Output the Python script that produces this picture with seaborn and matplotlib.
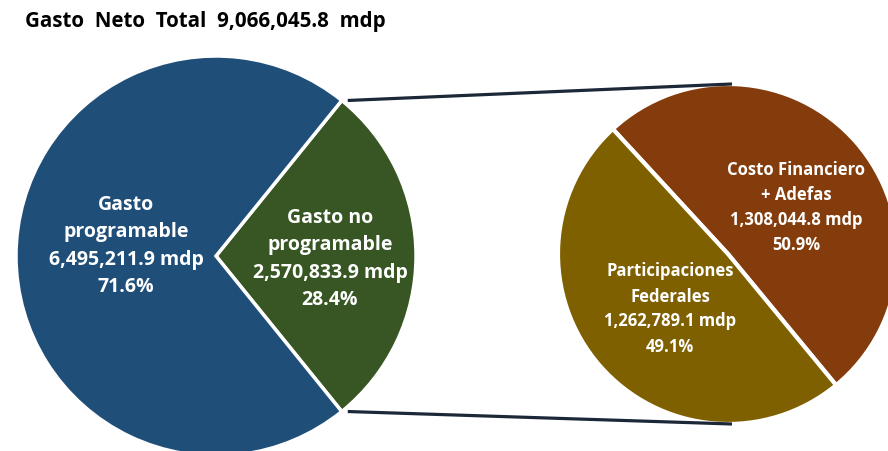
import numpy as np
import matplotlib
matplotlib.use("Agg")
import matplotlib.pyplot as plt
import seaborn as sns

# data (mdp)
total_label = "Gasto  Neto  Total  9,066,045.8  mdp"
main_names = ["Gasto no\nprogramable", "Gasto\nprogramable"]
main_values = [2570833.9, 6495211.9]
main_pct = ["28.4%", "71.6%"]
sub_names = ["Costo Financiero\n+ Adefas", "Participaciones\nFederales"]
sub_values = [1308044.8, 1262789.1]
sub_pct = ["50.9%", "49.1%"]

sns.set_theme(style="white")
plt.rcParams["font.family"] = ["Open Sans", "DejaVu Sans"]

main_colors = ["#375623", "#1F4E79"]
sub_colors = ["#843C0C", "#7F6000"]

fig = plt.figure(figsize=(8.88, 4.52), dpi=100)
ax = fig.add_axes([0, 0, 1, 1])

# left pie, the small slice pulled out to the right
c1 = (216, 195)
r1 = 200
half = 360 * main_values[0] / sum(main_values) / 2
ax.pie(main_values, colors=main_colors, startangle=-half, counterclock=True,
       center=c1, radius=r1, explode=[0.03, 0],
       wedgeprops=dict(edgecolor="white", linewidth=2.5))

# right pie (breakdown of gasto no programable)
c2 = (728, 197)
r2 = 170
ax.pie(sub_values, colors=sub_colors, startangle=-50.5, counterclock=True,
       center=c2, radius=r2,
       wedgeprops=dict(edgecolor="white", linewidth=3))

# connector lines from the exploded wedge corners to the second pie
gx = c1[0] + 0.03 * r1
for sgn in (1, -1):
    a = np.deg2rad(sgn * half)
    x0 = gx + r1 * np.cos(a)
    y0 = c1[1] + r1 * np.sin(a)
    ax.plot([x0, c2[0] + 4], [y0, c2[1] + sgn * r2], color="#1c2838",
            lw=2.3, solid_capstyle="butt", zorder=5)

def money(v):
    return f"{v:,.1f} mdp"

lab = dict(color="white", fontweight="bold", ha="center", va="center",
           fontsize=14, linespacing=1.48)
ax.text(126, 206, f"{main_names[1]}\n{money(main_values[1])}\n{main_pct[1]}", **lab)
ax.text(330, 193, f"{main_names[0]}\n{money(main_values[0])}\n{main_pct[0]}", **lab)
lab2 = dict(lab, fontsize=12, linespacing=1.5)
ax.text(796, 244, f"{sub_names[0]}\n{money(sub_values[0])}\n{sub_pct[0]}", **lab2)
ax.text(670, 143, f"{sub_names[1]}\n{money(sub_values[1])}\n{sub_pct[1]}", **lab2)

ax.text(25, 430, total_label, fontsize=14.8, fontweight="bold", color="black",
        ha="left", va="center")

ax.set_xlim(0, 888)
ax.set_ylim(0, 452)
ax.set_aspect("equal")
ax.set_axis_off()

fig.savefig("out.png", dpi=100)
